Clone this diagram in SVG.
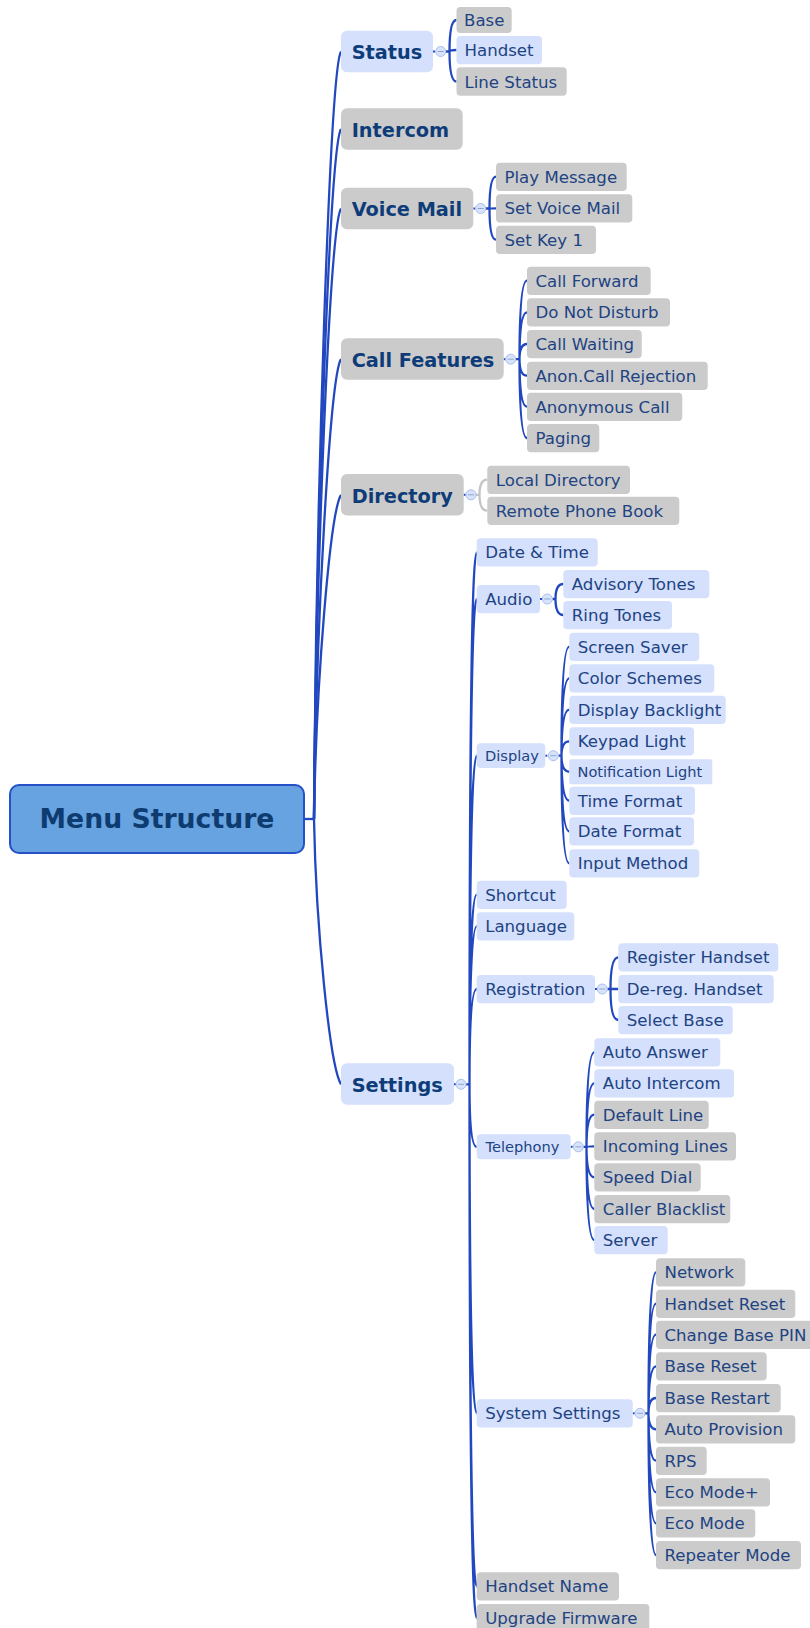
<svg xmlns="http://www.w3.org/2000/svg" width="810" height="1628" viewBox="0 0 810 1628">
<style>
.b{fill:#d4e0fc}
.g{fill:#cbcbcb}
.t1{font-family:"DejaVu Sans",Verdana,sans-serif;font-weight:bold;font-size:19.3px;fill:#0e3c78}
.t2{font-family:"DejaVu Sans",Verdana,sans-serif;font-size:16.6px;fill:#1e4382}
.ts{font-family:"DejaVu Sans",Verdana,sans-serif;font-size:14.6px;fill:#1e4382}
.c{fill:none;stroke:#2248c0;stroke-width:2.3}
.cg{fill:none;stroke:#c4c4c4;stroke-width:2.3}
.d{fill:none;stroke:#2248c0;stroke-width:2;stroke-dasharray:2 1.5}
.k{fill:#d7e3fb;stroke:#a9bfee;stroke-width:1}
.km{stroke:#8fa5d0;stroke-width:1}
</style>
<defs>
<g id="knob"><circle class="k" cx="0" cy="0" r="5"/><line class="km" x1="-3" y1="0" x2="3" y2="0"/></g>
</defs>
<rect width="810" height="1628" fill="#ffffff"/>
<g id="connectors">
<path class="c" d="M304,819 H314"/>
<path class="c" d="M314,819 C316,500.5 330,69.5 341,51.5"/>
<path class="c" d="M314,819 C316,532.7 330,147.2 341,129.2"/>
<path class="c" d="M314,819 C316,565.6 330,226.5 341,208.5"/>
<path class="c" d="M314,819 C316,628.2 330,377.2 341,359.2"/>
<path class="c" d="M314,819 C316,684.5 330,512.8 341,494.8"/>
<path class="c" d="M314,819 C316,929.1 330,1066.3 341,1084.3"/>
<!-- Status -->
<path class="d" d="M433,51.5 H436"/>
<path class="c" d="M445.7,51.5 H449.5 M449.5,51.5 Q449.5,20 456.5,20 M449.5,51.5 Q449.5,50 456.5,50 M449.5,51.5 Q449.5,81.5 456.5,81.5"/>
<!-- Voice Mail -->
<path class="d" d="M473.3,208.5 H476"/>
<path class="c" d="M485.7,208.5 H489.5 M489.5,208.5 Q489.5,176.7 496,176.7 M489.5,208.5 Q489.5,208.3 496,208.3 M489.5,208.5 Q489.5,239.7 496,239.7"/>
<!-- Call Features -->
<path class="d" d="M503.7,359.2 H506"/>
<path class="c" d="M515.7,359.2 H519.5 M519.5,359.2 Q519.5,280.7 527,280.7 M519.5,359.2 Q519.5,312.3 527,312.3 M519.5,359.2 Q519.5,344 527,344 M519.5,359.2 Q519.5,375.7 527,375.7 M519.5,359.2 Q519.5,406.7 527,406.7 M519.5,359.2 Q519.5,438 527,438"/>
<!-- Directory -->
<path class="d" d="M463.7,494.8 H466"/>
<path class="cg" d="M476,494.8 H479.5 M479.5,494.8 Q479.5,479.7 487.3,479.7 M479.5,494.8 Q479.5,510.7 487.3,510.7"/>
<!-- Settings -->
<path class="d" d="M454,1084.3 H456"/>
<path class="c" d="M466,1084.3 H469.5 M469.5,1084.3 Q469.5,552.3 476.7,552.3 M469.5,1084.3 Q469.5,599 476.7,599 M469.5,1084.3 Q469.5,755.7 476.7,755.7 M469.5,1084.3 Q469.5,894.7 476.7,894.7 M469.5,1084.3 Q469.5,926.3 476.7,926.3 M469.5,1084.3 Q469.5,989 476.7,989 M469.5,1084.3 Q469.5,1146.8 476.7,1146.8 M469.5,1084.3 Q469.5,1413.3 476.7,1413.3 M469.5,1084.3 Q469.5,1586.3 476.7,1586.3 M469.5,1084.3 Q469.5,1618 476.7,1618"/>
<!-- Audio -->
<path class="d" d="M540,599 H542.5"/>
<path class="c" d="M552.3,599 H555.5 M555.5,599 Q555.5,584 563.3,584 M555.5,599 Q555.5,615 563.3,615"/>
<!-- Display -->
<path class="d" d="M545.3,755.7 H548.5"/>
<path class="c" d="M558.3,755.7 H561.5 M561.5,755.7 Q561.5,646.7 569.3,646.7 M561.5,755.7 Q561.5,678.3 569.3,678.3 M561.5,755.7 Q561.5,709.7 569.3,709.7 M561.5,755.7 Q561.5,741.3 569.3,741.3 M561.5,755.7 Q561.5,771.8 569.3,771.8 M561.5,755.7 Q561.5,800.7 569.3,800.7 M561.5,755.7 Q561.5,831.3 569.3,831.3 M561.5,755.7 Q561.5,863.3 569.3,863.3"/>
<!-- Registration -->
<path class="d" d="M595,989 H597.5"/>
<path class="c" d="M607.3,989 H610.5 M610.5,989 Q610.5,957.3 618.3,957.3 M610.5,989 Q610.5,989 618.3,989 M610.5,989 Q610.5,1020 618.3,1020"/>
<!-- Telephony -->
<path class="d" d="M570.7,1146.8 H573.5"/>
<path class="c" d="M583.3,1146.8 H586.5 M586.5,1146.8 Q586.5,1052.3 594.3,1052.3 M586.5,1146.8 Q586.5,1083.3 594.3,1083.3 M586.5,1146.8 Q586.5,1114.7 594.3,1114.7 M586.5,1146.8 Q586.5,1146.3 594.3,1146.3 M586.5,1146.8 Q586.5,1177.3 594.3,1177.3 M586.5,1146.8 Q586.5,1209 594.3,1209 M586.5,1146.8 Q586.5,1240 594.3,1240"/>
<!-- System Settings -->
<path class="d" d="M632.7,1413.3 H635"/>
<path class="c" d="M645,1413.3 H648.5 M648.5,1413.3 Q648.5,1272.3 656,1272.3 M648.5,1413.3 Q648.5,1303.7 656,1303.7 M648.5,1413.3 Q648.5,1334.7 656,1334.7 M648.5,1413.3 Q648.5,1366.3 656,1366.3 M648.5,1413.3 Q648.5,1398 656,1398 M648.5,1413.3 Q648.5,1429.3 656,1429.3 M648.5,1413.3 Q648.5,1460.7 656,1460.7 M648.5,1413.3 Q648.5,1492.3 656,1492.3 M648.5,1413.3 Q648.5,1523.3 656,1523.3 M648.5,1413.3 Q648.5,1555 656,1555"/>
</g>
<g id="knobs">
<use href="#knob" x="440.7" y="51.5"/>
<use href="#knob" x="480.7" y="208.5"/>
<use href="#knob" x="510.7" y="359.2"/>
<use href="#knob" x="471" y="494.8"/>
<use href="#knob" x="461" y="1084.3"/>
<use href="#knob" x="547.3" y="599"/>
<use href="#knob" x="553.3" y="755.7"/>
<use href="#knob" x="602.3" y="989"/>
<use href="#knob" x="578.3" y="1146.8"/>
<use href="#knob" x="640" y="1413.3"/>
</g>
<g id="root"><rect x="10" y="785" width="294" height="68" rx="9" fill="#67a3e1" stroke="#2550c6" stroke-width="2"/><text x="157" y="828" text-anchor="middle" style="font-family:'DejaVu Sans',Verdana,sans-serif;font-weight:bold;font-size:26.7px;fill:#0e3c70">Menu Structure</text></g>
<g id="status"><rect class="b" x="341" y="30.7" width="92" height="41.5" rx="6"/><text class="t1" x="351.7" y="59.3">Status</text></g>
<g id="intercom"><rect class="g" x="341" y="108.3" width="121.7" height="41.5" rx="6"/><text class="t1" x="351.7" y="136.9">Intercom</text></g>
<g id="voicemail"><rect class="g" x="341" y="187.7" width="132.3" height="41.5" rx="6"/><text class="t1" x="351.7" y="216.3">Voice Mail</text></g>
<g id="callfeatures"><rect class="g" x="341" y="338.3" width="162.7" height="41.5" rx="6"/><text class="t1" x="351.7" y="366.9">Call Features</text></g>
<g id="directory"><rect class="g" x="341" y="474" width="122.7" height="41.5" rx="6"/><text class="t1" x="351.7" y="502.6">Directory</text></g>
<g id="settings"><rect class="b" x="341" y="1063.3" width="113" height="41.5" rx="6"/><text class="t1" x="351.7" y="1091.9">Settings</text></g>
<g id="base"><rect class="g" x="456.5" y="7" width="55.2" height="26" rx="4"/><text class="t2" x="464" y="26">Base</text></g>
<g id="handset"><rect class="b" x="456.5" y="36" width="85.5" height="28.3" rx="4"/><text class="t2" x="464.5" y="56">Handset</text></g>
<g id="linestatus"><rect class="g" x="456.5" y="67.3" width="110.2" height="28.5" rx="4"/><text class="t2" x="464.5" y="87.5">Line Status</text></g>
<g id="playmessage"><rect class="g" x="496" y="162.7" width="130.7" height="28.3" rx="4"/><text class="t2" x="504.5" y="182.7">Play Message</text></g>
<g id="setvoicemail"><rect class="g" x="496" y="194.3" width="136.3" height="28.3" rx="4"/><text class="t2" x="504.5" y="214.3">Set Voice Mail</text></g>
<g id="setkey1"><rect class="g" x="496" y="225.7" width="100" height="28.3" rx="4"/><text class="t2" x="504.5" y="245.7">Set Key 1</text></g>
<g id="callforward"><rect class="g" x="527" y="266.7" width="123.7" height="28.3" rx="4"/><text class="t2" x="535.5" y="286.7">Call Forward</text></g>
<g id="dnd"><rect class="g" x="527" y="298.3" width="143" height="28.3" rx="4"/><text class="t2" x="535.5" y="318.3">Do Not Disturb</text></g>
<g id="callwaiting"><rect class="g" x="527" y="330" width="114.7" height="28.3" rx="4"/><text class="t2" x="535.5" y="350">Call Waiting</text></g>
<g id="anonrej"><rect class="g" x="527" y="361.7" width="180.7" height="28.3" rx="4"/><text class="t2" x="535.5" y="381.7">Anon.Call Rejection</text></g>
<g id="anoncall"><rect class="g" x="527" y="392.7" width="155.3" height="28.3" rx="4"/><text class="t2" x="535.5" y="412.7">Anonymous Call</text></g>
<g id="paging"><rect class="g" x="527" y="424" width="72.3" height="28.3" rx="4"/><text class="t2" x="535.5" y="444">Paging</text></g>
<g id="localdir"><rect class="g" x="487.3" y="465.7" width="142.7" height="28.3" rx="4"/><text class="t2" x="495.8" y="485.7">Local Directory</text></g>
<g id="remotebook"><rect class="g" x="487.3" y="496.7" width="192" height="28.3" rx="4"/><text class="t2" x="495.8" y="516.7">Remote Phone Book</text></g>
<g id="datetime"><rect class="b" x="476.7" y="538.3" width="121" height="28.3" rx="4"/><text class="t2" x="485.2" y="558.3">Date &amp; Time</text></g>
<g id="audio"><rect class="b" x="476.7" y="585" width="63.3" height="28.3" rx="4"/><text class="t2" x="485.2" y="605">Audio</text></g>
<g id="display"><rect class="b" x="476.7" y="743.3" width="68.6" height="24.8" rx="4"/><text class="ts" x="485" y="760.8">Display</text></g>
<g id="shortcut"><rect class="b" x="476.7" y="880.7" width="90" height="28.3" rx="4"/><text class="t2" x="485.2" y="900.7">Shortcut</text></g>
<g id="language"><rect class="b" x="476.7" y="912.3" width="97.6" height="28.3" rx="4"/><text class="t2" x="485.2" y="932.3">Language</text></g>
<g id="registration"><rect class="b" x="476.7" y="975" width="118.3" height="28.3" rx="4"/><text class="t2" x="485.2" y="995">Registration</text></g>
<g id="telephony"><rect class="b" x="476.7" y="1134.3" width="94" height="25" rx="4"/><text class="ts" x="485.5" y="1151.8">Telephony</text></g>
<g id="systemsettings"><rect class="b" x="476.7" y="1399.3" width="156" height="28.3" rx="4"/><text class="t2" x="485.2" y="1419.3">System Settings</text></g>
<g id="handsetname"><rect class="g" x="476.7" y="1572.3" width="142.3" height="28.3" rx="4"/><text class="t2" x="485.2" y="1592.3">Handset Name</text></g>
<g id="upgradefw"><rect class="g" x="476.7" y="1604" width="172.6" height="28.3" rx="4"/><text class="t2" x="485.2" y="1624">Upgrade Firmware</text></g>
<g id="advisory"><rect class="b" x="563.3" y="570" width="146" height="28.3" rx="4"/><text class="t2" x="571.8" y="590">Advisory Tones</text></g>
<g id="ringtones"><rect class="b" x="563.3" y="601" width="108.7" height="28.3" rx="4"/><text class="t2" x="571.8" y="621">Ring Tones</text></g>
<g id="screensaver"><rect class="b" x="569.3" y="632.7" width="130" height="28.3" rx="4"/><text class="t2" x="577.8" y="652.7">Screen Saver</text></g>
<g id="colorschemes"><rect class="b" x="569.3" y="664.3" width="145" height="28.3" rx="4"/><text class="t2" x="577.8" y="684.3">Color Schemes</text></g>
<g id="backlight"><rect class="b" x="569.3" y="695.7" width="156.4" height="28.3" rx="4"/><text class="t2" x="577.8" y="715.7">Display Backlight</text></g>
<g id="keypad"><rect class="b" x="569.3" y="727.3" width="124.7" height="28.3" rx="4"/><text class="t2" x="577.8" y="747.3">Keypad Light</text></g>
<g id="notification"><rect class="b" x="569.3" y="759.3" width="143" height="25" rx="2"/><text class="ts" x="577.5" y="776.8">Notification Light</text></g>
<g id="timeformat"><rect class="b" x="569.3" y="786.7" width="125.7" height="28.3" rx="4"/><text class="t2" x="577.8" y="806.7">Time Format</text></g>
<g id="dateformat"><rect class="b" x="569.3" y="817.3" width="124.7" height="28.3" rx="4"/><text class="t2" x="577.8" y="837.3">Date Format</text></g>
<g id="inputmethod"><rect class="b" x="569.3" y="849.3" width="130" height="28.3" rx="4"/><text class="t2" x="577.8" y="869.3">Input Method</text></g>
<g id="reghandset"><rect class="b" x="618.3" y="943.3" width="160" height="28.3" rx="4"/><text class="t2" x="626.8" y="963.3">Register Handset</text></g>
<g id="dereg"><rect class="b" x="618.3" y="975" width="155.4" height="28.3" rx="4"/><text class="t2" x="626.8" y="995">De-reg. Handset</text></g>
<g id="selectbase"><rect class="b" x="618.3" y="1006" width="114.4" height="28.3" rx="4"/><text class="t2" x="626.8" y="1026">Select Base</text></g>
<g id="autoanswer"><rect class="b" x="594.3" y="1038.3" width="126" height="28.3" rx="4"/><text class="t2" x="602.8" y="1058.3">Auto Answer</text></g>
<g id="autointercom"><rect class="b" x="594.3" y="1069.3" width="139.7" height="28.3" rx="4"/><text class="t2" x="602.8" y="1089.3">Auto Intercom</text></g>
<g id="defaultline"><rect class="g" x="594.3" y="1100.7" width="114.4" height="28.3" rx="4"/><text class="t2" x="602.8" y="1120.7">Default Line</text></g>
<g id="incoming"><rect class="g" x="594.3" y="1132.3" width="141.7" height="28.3" rx="4"/><text class="t2" x="602.8" y="1152.3">Incoming Lines</text></g>
<g id="speeddial"><rect class="g" x="594.3" y="1163.3" width="106.4" height="28.3" rx="4"/><text class="t2" x="602.8" y="1183.3">Speed Dial</text></g>
<g id="blacklist"><rect class="g" x="594.3" y="1195" width="136" height="28.3" rx="4"/><text class="t2" x="602.8" y="1215">Caller Blacklist</text></g>
<g id="server"><rect class="b" x="594.3" y="1226" width="73.4" height="28.3" rx="4"/><text class="t2" x="602.8" y="1246">Server</text></g>
<g id="network"><rect class="g" x="656" y="1258.3" width="89.3" height="28.3" rx="4"/><text class="t2" x="664.5" y="1278.3">Network</text></g>
<g id="handsetreset"><rect class="g" x="656" y="1289.7" width="139.3" height="28.3" rx="4"/><text class="t2" x="664.5" y="1309.7">Handset Reset</text></g>
<g id="changepin"><rect class="g" x="656" y="1320.7" width="162" height="28.3" rx="4"/><text class="t2" x="664.5" y="1340.7">Change Base PIN</text></g>
<g id="basereset"><rect class="g" x="656" y="1352.3" width="110.7" height="28.3" rx="4"/><text class="t2" x="664.5" y="1372.3">Base Reset</text></g>
<g id="baserestart"><rect class="g" x="656" y="1384" width="124.7" height="28.3" rx="4"/><text class="t2" x="664.5" y="1404">Base Restart</text></g>
<g id="autoprov"><rect class="g" x="656" y="1415.3" width="139.3" height="28.3" rx="4"/><text class="t2" x="664.5" y="1435.3">Auto Provision</text></g>
<g id="rps"><rect class="g" x="656" y="1446.7" width="50.7" height="28.3" rx="4"/><text class="t2" x="664.5" y="1466.7">RPS</text></g>
<g id="ecoplus"><rect class="g" x="656" y="1478.3" width="114" height="28.3" rx="4"/><text class="t2" x="664.5" y="1498.3">Eco Mode+</text></g>
<g id="eco"><rect class="g" x="656" y="1509.3" width="99.3" height="28.3" rx="4"/><text class="t2" x="664.5" y="1529.3">Eco Mode</text></g>
<g id="repeater"><rect class="g" x="656" y="1541" width="145" height="28.3" rx="4"/><text class="t2" x="664.5" y="1561">Repeater Mode</text></g>
</svg>
